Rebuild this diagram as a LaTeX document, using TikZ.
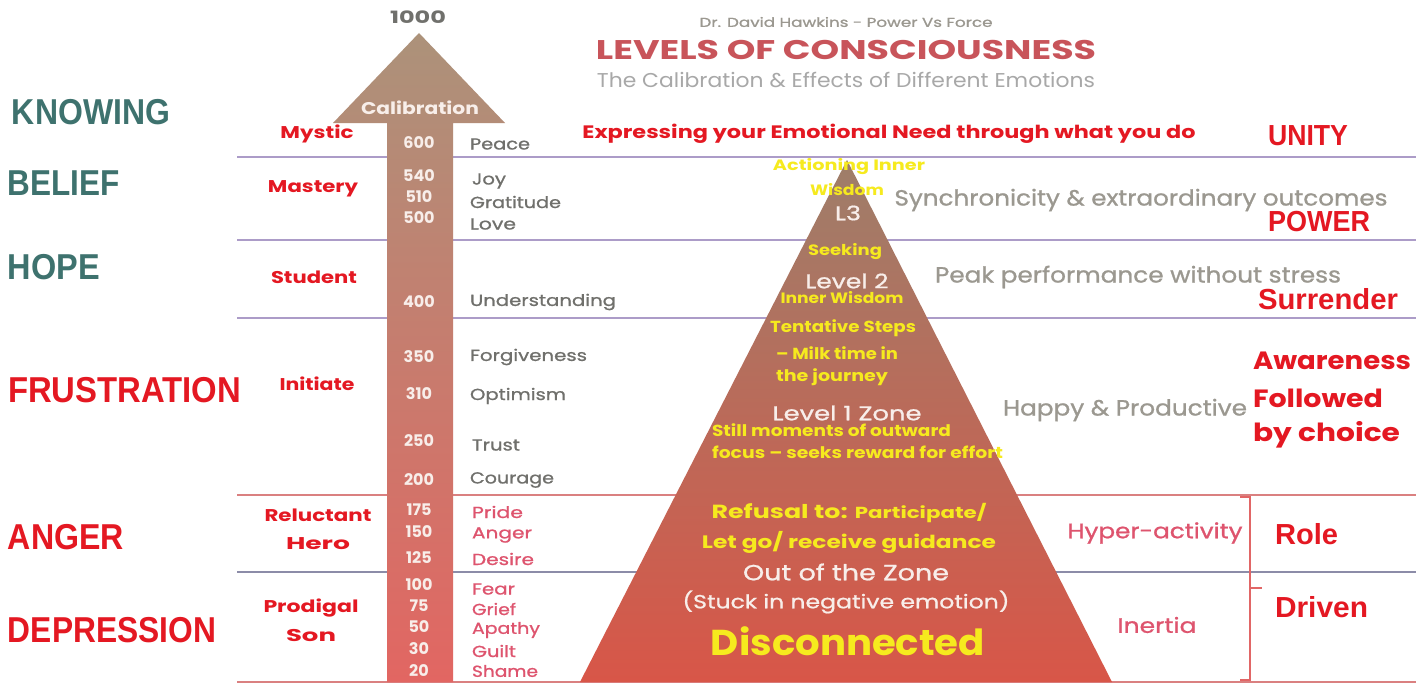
\documentclass[tikz,border=0pt]{standalone}
\usepackage{fontspec}
\setmainfont{Poppins}
\newfontfamily\popm[FakeBold=0.9]{Poppins}
\newfontfamily\popb[FakeBold=0.8,BoldFont={Poppins Bold}]{Poppins}
\newfontfamily\lib{Liberation Sans}
\usepackage{graphicx}
\definecolor{teal1}{RGB}{62,114,110}
\definecolor{red1}{RGB}{228,24,34}
\definecolor{titler}{RGB}{200,84,90}
\definecolor{gray1}{RGB}{112,112,108}
\definecolor{gray2}{RGB}{155,152,144}
\definecolor{gray3}{RGB}{168,168,168}
\definecolor{pink1}{RGB}{222,84,110}
\definecolor{yel}{RGB}{246,234,30}
\definecolor{wht}{RGB}{248,238,234}
\definecolor{lpur}{RGB}{172,156,200}
\definecolor{lred}{RGB}{218,128,128}
\definecolor{lgb}{RGB}{140,140,168}
\definecolor{atop}{RGB}{172,146,122}
\definecolor{amid}{RGB}{200,128,112}
\definecolor{abot}{RGB}{226,102,98}
\definecolor{ptop}{RGB}{158,126,106}
\definecolor{pmid}{RGB}{192,114,98}
\definecolor{pbot}{RGB}{216,86,72}
\newcommand\fw[2]{\resizebox{#1pt}{\height}{#2}}
\tikzset{
  t/.style={inner sep=0pt, outer sep=0pt, anchor=center},
  tl/.style={inner sep=0pt, outer sep=0pt, anchor=west},
  lvl/.style={tl, font=\lib\bfseries\fontsize{36}{36}\selectfont},
  role/.style={t, text=red1, font=\bfseries\fontsize{17}{17}\selectfont},
  num/.style={t, text=wht, font=\bfseries\fontsize{16}{16}\selectfont},
  emo/.style={tl, text=gray1, font=\popm\fontsize{16}{16}\selectfont},
  emor/.style={tl, text=pink1, font=\popm\fontsize{16}{16}\selectfont},
  ysm/.style={text=yel, font=\bfseries\fontsize{15}{15}\selectfont},
  ymd/.style={tl, text=yel, font=\bfseries\fontsize{16}{16}\selectfont},
  wlv/.style={text=wht, font=\popm\fontsize{20}{20}\selectfont},
  grt/.style={t, text=gray2, font=\popm\fontsize{22}{22}\selectfont},
  rlab/.style={tl, text=red1, font=\lib\bfseries\fontsize{29}{29}\selectfont},
  rlab2/.style={tl, text=red1, font=\bfseries\fontsize{25}{25}\selectfont},
  hline/.style={line width=2.6pt},
  brk/.style={draw=lred!80!red, line width=2pt},
}
\begin{document}
\begin{tikzpicture}[x=1pt,y=-1pt]
\useasboundingbox (0,0) rectangle (1416,685);
\fill[white] (0,0) rectangle (1416,685);
% horizontal lines
\draw[hline, lpur] (237,157) -- (1416,157);
\draw[hline, lpur] (237,240) -- (1416,240);
\draw[hline, lpur] (237,318) -- (1416,318);
\draw[hline, lred] (237,495) -- (1416,495);
\draw[hline, lgb] (237,572) -- (1416,572);
\draw[hline, lred] (237,682) -- (1416,682);
% arrow
\shade[top color=atop, middle color=amid, bottom color=abot]
  (419,33) -- (505,123) -- (453,123) -- (453,682) -- (387,682) -- (387,123) -- (333,123) -- cycle;
% pyramid
\shade[top color=ptop, middle color=pmid, bottom color=pbot]
  (847,160) -- (1112,682) -- (580,682) -- cycle;
% bracket
\draw[brk] (1240,497) -- (1250,497) -- (1250,680) -- (1240,680);
\draw[brk] (1250,588) -- (1262,588);

% title
\node[t, text=gray2, font=\popm\fontsize{13}{13}\selectfont] (dr) at (846,22) {\fw{293}{Dr. David Hawkins - Power Vs Force}};
\node[t, text=titler, font=\bfseries\fontsize{27}{27}\selectfont] (title) at (846,50) {\fw{500}{LEVELS OF CONSCIOUSNESS}};
\node[t, text=gray3, font=\fontsize{20}{20}\selectfont] (sub) at (846,80) {\fw{498}{The Calibration \& Effects of Different Emotions}};

% arrow labels
\node[t, text=gray1, font=\bfseries\fontsize{17}{17}\selectfont] (k1000) at (418,17) {\fw{56}{1000}};
\node[t, text=wht, font=\bfseries\fontsize{17}{17}\selectfont] (calib) at (420,108) {\fw{118}{Calibration}};

% left levels
\node[lvl, text=teal1] (know) at (12,112) {\fw{158}{KNOWING}};
\node[lvl, text=teal1] (bel) at (8,183) {\fw{112}{BELIEF}};
\node[lvl, text=teal1] (hope) at (8,267) {\fw{92}{HOPE}};
\node[lvl, text=red1] (frus) at (8,390) {\fw{233}{FRUSTRATION}};
\node[lvl, text=red1] (ang) at (8,537) {\fw{116}{ANGER}};
\node[lvl, text=red1] (dep) at (8,630) {\fw{208}{DEPRESSION}};

% roles
\node[role] (mys) at (317,134) {\fw{73}{Mystic}};
\node[role] (mas) at (313,189) {\fw{90}{Mastery}};
\node[role] (stu) at (314,277) {\fw{86}{Student}};
\node[role] (ini) at (317,384) {\fw{75}{Initiate}};
\node[role] (rel) at (318,515) {\fw{107}{Reluctant}};
\node[role] (her) at (318,544) {\fw{64}{Hero}};
\node[role] (pro) at (311,608) {\fw{95}{Prodigal}};
\node[role] (son) at (311,636) {\fw{50}{Son}};

% numbers
\node[num] (n600) at (419,143) {600};
\node[num] (n540) at (419,176) {540};
\node[num] (n510) at (419,197) {510};
\node[num] (n500) at (419,218) {500};
\node[num] (n400) at (419,302) {400};
\node[num] (n350) at (419,357) {350};
\node[num] (n310) at (419,394) {310};
\node[num] (n250) at (419,441) {250};
\node[num] (n200) at (419,480) {200};
\node[num] (n175) at (419,510) {175};
\node[num] (n150) at (419,532) {150};
\node[num] (n125) at (419,558) {125};
\node[num] (n100) at (419,585) {100};
\node[num] (n75) at (419,606) {75};
\node[num] (n50) at (419,627) {50};
\node[num] (n30) at (419,649) {30};
\node[num] (n20) at (419,671) {20};

% emotions
\node[emo] (peace) at (470,144) {\fw{60}{Peace}};
\node[emo] (joy) at (472,181) {\fw{34}{Joy}};
\node[emo] (grat) at (470,202) {\fw{91}{Gratitude}};
\node[emo] (love) at (470,224) {\fw{46}{Love}};
\node[emo] (und) at (470,302) {\fw{146}{Understanding}};
\node[emo] (forg) at (470,357) {\fw{117}{Forgiveness}};
\node[emo] (opt) at (470,396) {\fw{96}{Optimism}};
\node[emo] (trust) at (472,445) {\fw{48}{Trust}};
\node[emo] (cour) at (470,480) {\fw{84}{Courage}};
\node[emor] (pride) at (472,512) {\fw{51}{Pride}};
\node[emor] (anger) at (472,535) {\fw{60}{Anger}};
\node[emor] (desire) at (472,559) {\fw{62}{Desire}};
\node[emor] (fear) at (472,589) {\fw{43}{Fear}};
\node[emor] (grief) at (472,609) {\fw{44}{Grief}};
\node[emor] (apathy) at (472,630) {\fw{68}{Apathy}};
\node[emor] (guilt) at (472,651) {\fw{44}{Guilt}};
\node[emor] (shame) at (472,671) {\fw{66}{Shame}};

% pyramid texts
\node[t, ysm] (act) at (849,167) {\fw{152}{Actioning Inner}};
\node[t, ysm] (wis) at (847,190) {\fw{74}{Wisdom}};
\node[t, wlv] (l3) at (848,213) {\fw{26}{L3}};
\node[t, ysm] (seek) at (845,252) {\fw{74}{Seeking}};
\node[t, wlv] (lv2) at (847,281) {\fw{83}{Level 2}};
\node[t, ysm] (innw) at (842,298) {\fw{123}{Inner Wisdom}};
\node[ymd] (tent) at (770,328) {\fw{146}{Tentative Steps}};
\node[ymd] (milk) at (776,353) {\fw{122}{– Milk time in}};
\node[ymd] (jour) at (776,377) {\fw{112}{the journey}};
\node[t, wlv] (lv1) at (847,413) {\fw{149}{Level 1 Zone}};
\node[ymd] (still) at (712,430) {\fw{239}{Still moments of outward}};
\node[ymd] (focus) at (712,452) {\fw{291}{focus – seeks reward for effort}};
\node[t, text=yel, font=\bfseries\fontsize{19}{19}\selectfont] (refu) at (849,513) {\fw{275}{Refusal to: {\fontsize{16}{16}\selectfont Participate/}}};
\node[t, text=yel, font=\bfseries\fontsize{18}{18}\selectfont] (letgo) at (849,542) {\fw{294}{Let go/ receive guidance}};
\node[t, text=wht, font=\popm\fontsize{22}{22}\selectfont] (outz) at (846,572) {\fw{206}{Out of the Zone}};
\node[t, text=wht, font=\popm\fontsize{19}{19}\selectfont] (stuck) at (846,602) {\fw{327}{(Stuck in negative emotion)}};
\node[t, text=yel, font=\bfseries\fontsize{36}{36}\selectfont] (disc) at (848,641) {\fw{274}{Disconnected}};

% right side
\node[t, text=red1, font=\bfseries\fontsize{18}{18}\selectfont] (expr) at (889,134) {\fw{613}{Expressing your Emotional Need through what you do}};
\node[grt] (sync) at (1141,200) {\fw{493}{Synchronicity \& extraordinary outcomes}};
\node[grt] (peak) at (1138,277) {\fw{406}{Peak performance without stress}};
\node[grt] (happy) at (1125,410) {\fw{244}{Happy \& Productive}};
\node[t, text=pink1, font=\popm\fontsize{21}{21}\selectfont] (hyper) at (1155,533) {\fw{175}{Hyper-activity}};
\node[t, text=pink1, font=\popm\fontsize{21}{21}\selectfont] (inert) at (1157,625) {\fw{79}{Inertia}};
\node[rlab] (unity) at (1268,136) {\fw{80}{UNITY}};
\node[rlab] (power) at (1268,222) {\fw{102}{POWER}};
\node[rlab] (surr) at (1258,299) {\fw{140}{Surrender}};
\node[rlab2] (aware) at (1253,361) {\fw{158}{Awareness}};
\node[rlab2] (foll) at (1253,398) {\fw{130}{Followed}};
\node[rlab2] (bych) at (1253,435) {\fw{147}{by choice}};
\node[rlab] (role) at (1275,534) {\fw{63}{Role}};
\node[rlab] (driv) at (1275,607) {\fw{93}{Driven}};
\end{tikzpicture}
\end{document}
